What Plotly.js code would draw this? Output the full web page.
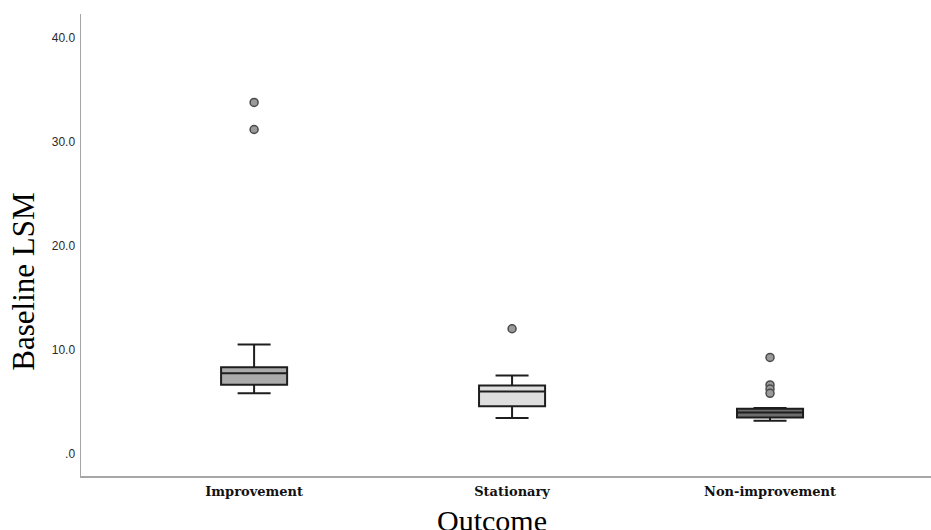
<!DOCTYPE html>
<html>
<head>
<meta charset="utf-8">
<script src="https://cdn.plot.ly/plotly-3.0.1.min.js"></script>
<style>html,body{margin:0;padding:0;background:#fff;overflow:hidden;}#chart{width:931px;height:530px;overflow:hidden;}</style>
</head>
<body>
<div id="chart"></div>
<script>
// Categories
var categories = ["Improvement", "Stationary", "Non-improvement"];
// Box statistics (Baseline LSM)
var q1Values = [6.68, 4.60, 3.52];
var medianValues = [7.77, 6.01, 4.00];
var q3Values = [8.35, 6.59, 4.37];
var lowerFence = [5.85, 3.48, 3.20];
var upperFence = [10.53, 7.55, 4.44];
// Outliers per category
var outliersImprovement = [33.8, 31.2];
var outliersStationary = [12.05];
var outliersNonImprovement = [9.3, 6.65, 6.25, 5.85];
// Y tick labels
var yTickVals = [0, 10, 20, 30, 40];
var yTickText = [".0", "10.0", "20.0", "30.0", "40.0"];

var boxFills = ["#ababab", "#dedede", "#6e6e6e"];
var outlierSets = [outliersImprovement, outliersStationary, outliersNonImprovement];

var traces = [];
for (var i = 0; i < categories.length; i++) {
  traces.push({
    type: "box",
    x: [categories[i]],
    q1: [q1Values[i]],
    median: [medianValues[i]],
    q3: [q3Values[i]],
    lowerfence: [lowerFence[i]],
    upperfence: [upperFence[i]],
    boxpoints: false,
    width: 0.256,
    whiskerwidth: 0.5,
    fillcolor: boxFills[i],
    line: {color: "#1e1e1e", width: 2},
    showlegend: false,
    hoverinfo: "y"
  });
}
for (var j = 0; j < categories.length; j++) {
  var xs = outlierSets[j].map(function(){ return categories[j]; });
  traces.push({
    type: "scatter",
    mode: "markers",
    x: xs,
    y: outlierSets[j],
    marker: {size: 8, color: "#9a9a9a", line: {color: "#4a4a4a", width: 1.5}},
    showlegend: false,
    hoverinfo: "y"
  });
}

var layout = {
  width: 931,
  height: 530,
  margin: {l: 81, r: 0, t: 14, b: 54, pad: 0},
  paper_bgcolor: "#ffffff",
  plot_bgcolor: "#ffffff",
  showlegend: false,
  xaxis: {
    type: "category",
    categoryorder: "array",
    categoryarray: categories,
    range: [-0.671, 2.624],
    showgrid: false,
    zeroline: false,
    showline: true,
    linecolor: "#a6a6a6",
    linewidth: 1.5,
    ticks: "",
    ticklabelstandoff: 3,
    tickfont: {family: "DejaVu Serif", size: 13, color: "#111111", weight: "bold"},
    fixedrange: true
  },
  yaxis: {
    range: [-2.1, 42.3],
    tickvals: yTickVals,
    ticktext: yTickText,
    showgrid: false,
    zeroline: false,
    showline: true,
    linecolor: "#a6a6a6",
    linewidth: 1.5,
    ticks: "",
    ticklabelstandoff: 2,
    tickfont: {family: "Liberation Sans", size: 12, color: "#2a2a2a"},
    fixedrange: true
  },
  annotations: [
    {
      text: "Outcome",
      xref: "paper", yref: "paper",
      x: 0.4835, y: -0.097,
      xanchor: "center", yanchor: "middle",
      showarrow: false,
      font: {family: "Liberation Serif", size: 30, color: "#000000"}
    },
    {
      text: "Baseline LSM",
      xref: "paper", yref: "paper",
      x: -0.068, y: 0.421,
      xanchor: "center", yanchor: "middle",
      textangle: -90,
      showarrow: false,
      font: {family: "Liberation Serif", size: 31, color: "#000000"}
    }
  ]
};

Plotly.newPlot("chart", traces, layout, {displayModeBar: false, staticPlot: true});
</script>
</body>
</html>
